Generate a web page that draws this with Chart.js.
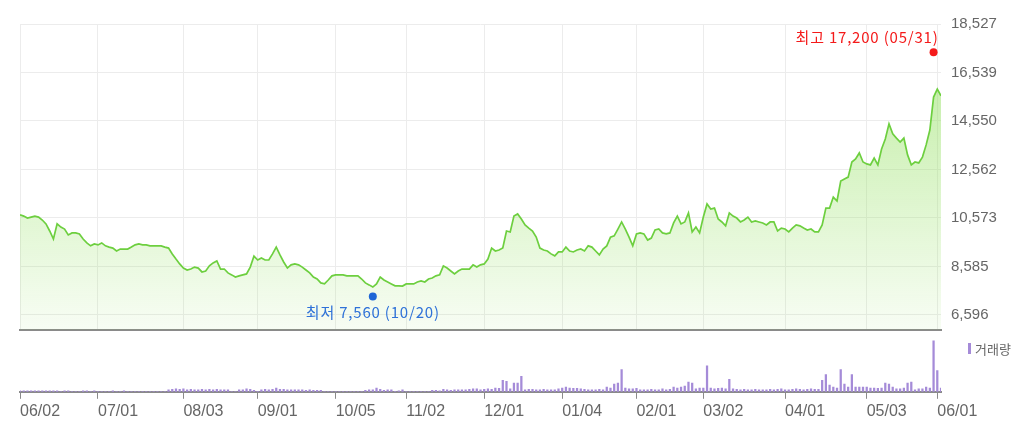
<!DOCTYPE html>
<html>
<head>
<meta charset="utf-8">
<script src="https://cdn.jsdelivr.net/npm/chart.js@4"></script>
<style>
  html, body { margin: 0; padding: 0; background: #fff; overflow: hidden; }
  #wrap { position: relative; width: 1024px; height: 432px; }
  #priceChart { position: absolute; left: 0; top: 0; }
  #volChart { position: absolute; left: 0; top: 334px; }
</style>
</head>
<body>
<div id="wrap">
  <canvas id="priceChart" width="1024" height="349"></canvas>
  <canvas id="volChart" width="1024" height="98"></canvas>
</div>
<script>
// daily close, one value per trading day (06/02 -> 06/02 next year)
const prices = [
  10700,10650,10570,10610,10650,10610,10490,10330,10040,9710,
  10330,10200,10120,9880,9960,9960,9920,9710,9550,9430,
  9510,9470,9550,9430,9380,9340,9220,9300,9300,9300,
  9380,9470,9510,9470,9470,9430,9430,9430,9430,9380,
  9340,9100,8890,8690,8520,8440,8480,8560,8520,8360,
  8400,8610,8730,8810,8480,8480,8320,8240,8150,8200,
  8240,8280,8560,9010,8850,8930,8850,8850,9100,9380,
  9060,8770,8520,8650,8690,8650,8560,8440,8320,8150,
  8070,7910,7870,8030,8200,8240,8240,8240,8200,8200,
  8200,8200,8070,7910,7830,7740,7870,8150,8030,7950,
  7870,7790,7790,7780,7870,7870,7870,7950,7990,7950,
  8070,8110,8200,8240,8610,8520,8400,8280,8400,8480,
  8480,8480,8650,8560,8650,8690,8890,9340,9220,9260,
  9340,10040,10000,10650,10740,10530,10290,10160,10040,9790,
  9340,9260,9220,9100,9020,9180,9180,9380,9220,9180,
  9260,9300,9220,9430,9380,9220,9060,9300,9430,9790,
  9840,10120,10410,10120,9790,9430,9920,9960,9920,9670,
  9750,10080,10120,9960,9920,9960,10370,10650,10330,10410,
  10780,10000,10200,9960,10610,11150,10940,10980,10530,10410,
  10250,10780,10650,10570,10410,10490,10610,10410,10450,10410,
  10370,10290,10410,10410,10040,10160,10120,10000,10160,10290,
  10250,10160,10080,10120,10000,10000,10290,10980,10980,11430,
  11270,12090,12170,12250,12870,12990,13240,12870,12790,12750,
  13030,12750,13400,13810,14430,14020,13850,13690,13850,13160,
  12750,12870,12830,13070,13570,14180,15530,15860,15580
];

const volumes = [
  100,100,100,100,100,100,100,100,100,100,
  100,30,100,100,30,30,30,100,100,30,
  100,30,30,30,30,100,30,30,100,30,
  30,30,30,30,30,30,30,30,30,30,
  200,250,300,250,300,200,250,200,200,250,
  200,250,200,250,200,200,200,30,30,200,
  200,300,250,150,50,200,250,200,250,400,
  250,250,200,200,200,200,200,150,200,150,
  150,150,30,30,30,30,30,30,30,30,
  30,30,30,150,200,200,400,250,150,200,
  200,50,100,200,30,30,30,30,30,30,
  30,150,150,100,250,200,150,200,200,200,
  200,250,300,300,200,250,300,250,400,350,
  1200,1100,300,900,900,1600,200,250,250,200,
  200,250,200,200,200,300,400,500,400,350,
  350,300,250,200,200,200,250,200,500,400,
  800,900,2300,400,300,300,350,200,200,200,
  250,200,200,300,200,250,500,400,500,600,
  1000,900,300,400,400,2700,400,300,350,400,
  300,1300,300,250,200,250,200,200,250,200,
  200,200,250,200,250,300,200,200,250,300,
  250,200,250,300,250,250,1200,1800,700,500,
  400,2300,800,500,1800,500,500,500,500,400,
  400,350,400,900,800,500,300,300,400,900,
  1000,200,300,300,500,400,5300,2200,400
];

const tickIdx = [0, 21, 44, 64, 85, 104, 125, 146, 166, 184, 206, 228, 247];
const tickLabels = ['06/02', '07/01', '08/03', '09/01', '10/05', '11/02', '12/01', '01/04', '02/01', '03/02', '04/01', '05/03', '06/01'];
const yTicks = [6596, 8585, 10573, 12562, 14550, 16539, 18527];

const highIdx = 246, highValue = 17200, highDate = '05/31';
const lowIdx = 95, lowValue = 7560, lowDate = '10/20';

const NUM_FONT = "'Liberation Sans', Arial, 'Noto Sans CJK KR', sans-serif";
const KR_FONT = "'Noto Sans CJK KR', 'Liberation Sans', sans-serif";
const fmt = v => v.toLocaleString('en-US');

// high / low markers with their captions
const extremes = {
  id: 'extremes',
  afterDatasetsDraw(chart) {
    const { ctx, scales: { x, y } } = chart;
    ctx.save();
    ctx.font = '15px ' + KR_FONT;
    ctx.letterSpacing = '0.8px';
    ctx.textBaseline = 'middle';

    const hx = x.getPixelForValue(highIdx);
    const hy = y.getPixelForValue(highValue) - 4;
    ctx.fillStyle = '#f41a1a';
    ctx.beginPath();
    ctx.arc(hx, hy, 4, 0, Math.PI * 2);
    ctx.fill();
    ctx.textAlign = 'right';
    ctx.fillText('최고 ' + fmt(highValue) + ' (' + highDate + ')', hx + 5, hy - 15);

    const lx = x.getPixelForValue(lowIdx);
    const ly = y.getPixelForValue(lowValue) + 5;
    ctx.fillStyle = '#1f66d6';
    ctx.beginPath();
    ctx.arc(lx, ly, 4, 0, Math.PI * 2);
    ctx.fill();
    ctx.fillStyle = '#2f72d8';
    ctx.textAlign = 'center';
    ctx.fillText('최저 ' + fmt(lowValue) + ' (' + lowDate + ')', lx, ly + 16);
    ctx.restore();
  }
};

new Chart(document.getElementById('priceChart'), {
  type: 'line',
  data: {
    datasets: [{
      data: prices.map((v, i) => ({ x: i, y: v })),
      borderColor: '#6dcf3f',
      borderWidth: 1.7,
      pointRadius: 0,
      tension: 0,
      fill: 'start',
      backgroundColor: (c) => {
        const area = c.chart.chartArea;
        if (!area) return 'rgba(0,0,0,0)';
        const g = c.chart.ctx.createLinearGradient(0, 90, 0, area.bottom);
        g.addColorStop(0, 'rgba(150,225,100,0.52)');
        g.addColorStop(1, 'rgba(150,225,100,0.07)');
        return g;
      }
    }]
  },
  options: {
    animation: false,
    responsive: false,
    layout: { padding: { left: 20, top: 24, right: 0, bottom: 0 } },
    plugins: { legend: { display: false }, tooltip: { enabled: false } },
    scales: {
      x: {
        type: 'linear', min: 0, max: 248,
        afterBuildTicks: s => { s.ticks = tickIdx.map(v => ({ value: v })); },
        afterFit: s => { s.height = 0; },
        ticks: { display: false },
        grid: { color: '#ececec', drawTicks: false },
        border: { color: '#8a8a8a', width: 2 }
      },
      y: {
        position: 'right', min: 5980, max: 18527,
        afterBuildTicks: s => { s.ticks = yTicks.map(v => ({ value: v })); },
        afterFit: s => { s.width = 83; },
        ticks: { padding: 10, color: '#666', font: { size: 15, family: NUM_FONT }, callback: v => fmt(v) },
        grid: { color: '#ececec', drawTicks: false },
        border: { display: false }
      }
    }
  },
  plugins: [extremes]
});

// legend for the volume pane
const volLegend = {
  id: 'volLegend',
  afterDraw(chart) {
    const { ctx } = chart;
    ctx.save();
    ctx.fillStyle = '#a58bd8';
    ctx.fillRect(968, 9, 3, 11);
    ctx.fillStyle = '#666';
    ctx.font = '13px ' + KR_FONT;
    ctx.textAlign = 'left';
    ctx.textBaseline = 'middle';
    ctx.fillText('거래량', 975, 15);
    ctx.restore();
  }
};

new Chart(document.getElementById('volChart'), {
  type: 'bar',
  data: {
    datasets: [{
      data: volumes.map((v, i) => ({ x: i, y: v })),
      backgroundColor: '#a58bd8',
      barThickness: 1.6
    }]
  },
  options: {
    animation: false,
    responsive: false,
    layout: { padding: { left: 20, top: 4, right: 83, bottom: 8 } },
    plugins: { legend: { display: false }, tooltip: { enabled: false } },
    scales: {
      x: {
        type: 'linear', min: 0, max: 248, offset: false,
        afterBuildTicks: s => { s.ticks = tickIdx.map(v => ({ value: v })); },
        ticks: {
          align: 'start', autoSkip: false, maxRotation: 0, padding: 3,
          color: '#666', font: { size: 16, family: NUM_FONT },
          callback: v => tickLabels[tickIdx.indexOf(v)]
        },
        grid: { drawOnChartArea: false, offset: false, tickLength: 7, color: '#8a8a8a' },
        border: { color: '#8a8a8a', width: 2 }
      },
      y: { display: false, min: 0, max: 5600 }
    }
  },
  plugins: [volLegend]
});
</script>
</body>
</html>
